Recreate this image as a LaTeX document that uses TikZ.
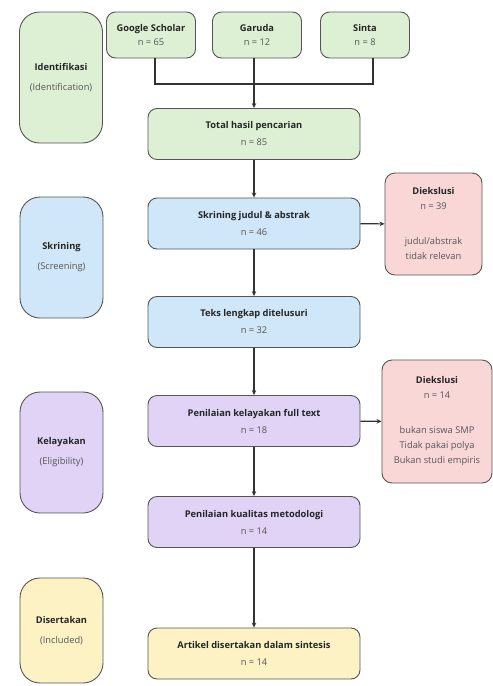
\documentclass[tikz,border=0pt]{standalone}
\usepackage{fontspec}
\setmainfont{Open Sans}
\usetikzlibrary{arrows.meta}

\definecolor{edgegray}{HTML}{555555}
\definecolor{linegray}{HTML}{333333}
\definecolor{textgray}{HTML}{555555}
\definecolor{idgreen}{HTML}{DDF0D4}
\definecolor{scrblue}{HTML}{CFE7F8}
\definecolor{elpurple}{HTML}{E0D3F5}
\definecolor{exred}{HTML}{F9D7D7}
\definecolor{incyellow}{HTML}{FCF2C4}

\newcommand{\nval}[1]{{\color{textgray}n = #1}}
\newcommand{\sub}[1]{{\color{textgray}(#1)}}

\tikzset{
  box/.style={draw=edgegray, line width=0.9pt, align=center, inner sep=0pt,
    text=black!85, font=\fontsize{9.3}{17}\selectfont},
  phase/.style={box, rounded corners=20pt, minimum width=83pt,
    font=\fontsize{9.3}{20}\selectfont},
  proc/.style={box, rounded corners=9pt, minimum width=212pt, minimum height=51pt},
  src/.style={box, rounded corners=9pt, minimum width=89pt, minimum height=46pt,
    font=\fontsize{9.3}{14}\selectfont},
  excl/.style={box, rounded corners=10pt, fill=exred,
    font=\fontsize{9.3}{15}\selectfont},
  flow/.style={-{Stealth[length=5pt,width=4.5pt]}, line width=1.2pt, draw=linegray}
}

\begin{document}
\begin{tikzpicture}[x=1pt,y=-1pt]
  \useasboundingbox (0,0) rectangle (493,686);

  % phase labels
  \begin{scope}[every node/.style={phase}]
    \node[fill=idgreen,  minimum height=131pt] (ident) at (61,77.5)  {\textbf{Identifikasi}\\\sub{Identification}};
    \node[fill=scrblue,  minimum height=121pt] (scr)   at (61.5,257.5) {\textbf{Skrining}\\\sub{Screening}};
    \node[fill=elpurple, minimum height=121pt] (elig)  at (61.5,452.5) {\textbf{Kelayakan}\\\sub{Eligibility}};
    \node[fill=incyellow,minimum height=105pt] (incl)  at (61.5,630.5) {\textbf{Disertakan}\\\sub{Included}};
  \end{scope}

  % sources
  \begin{scope}[every node/.style={src, fill=idgreen}]
    \node (gs)  at (151,35) {\textbf{Google Scholar}\\\nval{65}};
    \node (gar) at (257,35) {\textbf{Garuda}\\\nval{12}};
    \node (sin) at (365,35) {\textbf{Sinta}\\\nval{8}};
  \end{scope}

  % main flow
  \node[proc, fill=idgreen]   (total) at (254,134)   {\textbf{Total hasil pencarian}\\\nval{85}};
  \node[proc, fill=scrblue]   (tiab)  at (254,223.5) {\textbf{Skrining judul \& abstrak}\\\nval{46}};
  \node[proc, fill=scrblue]   (full)  at (254,322)   {\textbf{Teks lengkap ditelusuri}\\\nval{32}};
  \node[proc, fill=elpurple]  (elft)  at (254,421)   {\textbf{Penilaian kelayakan full text}\\\nval{18}};
  \node[proc, fill=elpurple]  (qual)  at (254,522)   {\textbf{Penilaian kualitas metodologi}\\\nval{14}};
  \node[proc, fill=incyellow] (synth) at (254,653.5) {\textbf{Artikel disertakan dalam sintesis}\\\nval{14}};

  % exclusions
  \node[excl, minimum width=97pt, minimum height=102pt] (exa) at (433.5,224)
    {\textbf{Diekslusi}\\\nval{39}\\[20pt]{\color{textgray}judul/abstrak}\\{\color{textgray}tidak relevan}};
  \node[excl, minimum width=110pt, minimum height=123pt] (exb) at (437,421.5)
    {\textbf{Diekslusi}\\\nval{14}\\[20pt]{\color{textgray}bukan siswa SMP}\\{\color{textgray}Tidak pakai polya}\\{\color{textgray}Bukan studi empiris}};

  % connectors
  \coordinate (merge) at (254,84);
  \draw[line width=1.2pt, draw=linegray] ([xshift=4pt]gs.south) |- (merge) -| ([xshift=8pt]sin.south);
  \draw[flow] (gar.south -| total) -- (total.north);
  \draw[flow] (total) -- (tiab);
  \draw[flow] (tiab) -- (full);
  \draw[flow] (full) -- (elft);
  \draw[flow] (elft) -- (qual);
  \draw[flow] (qual) -- (synth);
  \draw[flow] (tiab) -- (exa);
  \draw[flow] (elft) -- (exb);

\end{tikzpicture}
\end{document}
